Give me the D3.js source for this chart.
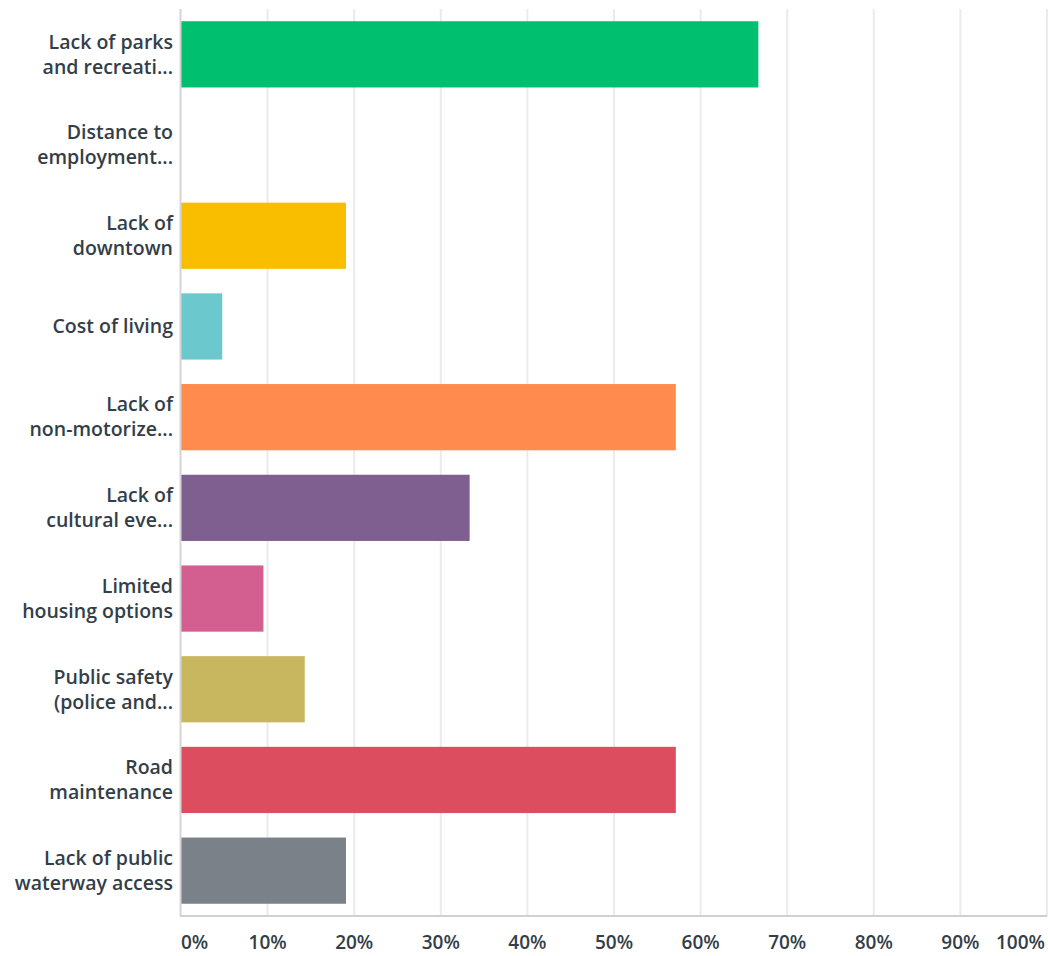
<!DOCTYPE html>
<html>
<head>
<meta charset="utf-8">
<script src="https://cdn.jsdelivr.net/npm/d3@7"></script>
<style>
  html, body { margin: 0; padding: 0; background: #fff; }
  svg text { font-family: "Open Sans", "Noto Sans", sans-serif; font-weight: 600; fill: #333e48; }
</style>
</head>
<body>
<svg id="chart" width="1048" height="956"></svg>
<script>
// Survey answer choices (each label split into its display lines)
const categories = [
  ["Lack of parks", "and recreati..."],
  ["Distance to", "employment..."],
  ["Lack of", "downtown"],
  ["Cost of living"],
  ["Lack of", "non-motorize..."],
  ["Lack of", "cultural eve..."],
  ["Limited", "housing options"],
  ["Public safety", "(police and..."],
  ["Road", "maintenance"],
  ["Lack of public", "waterway access"]
];
// Share of respondents choosing each option (%)
const values = [66.67, 0, 19.05, 4.76, 57.14, 33.33, 9.52, 14.29, 57.14, 19.05];
const colors = ["#00bf6f", "#507cb6", "#f9be00", "#6bc8cd", "#ff8b4f",
                "#7f5f90", "#d25f90", "#c9b75f", "#dc4e5f", "#7a8188"];
const tickValues = [0, 10, 20, 30, 40, 50, 60, 70, 80, 90, 100];

const svg = d3.select("#chart");
const margin = { top: 9, right: 1, bottom: 40, left: 181 };
const width = 1048 - margin.left - margin.right;
const height = 956 - margin.top - margin.bottom;

const g = svg.append("g").attr("transform", `translate(${margin.left},${margin.top})`);

const x = d3.scaleLinear().domain([0, 100]).range([0, width]);
const y = d3.scaleBand().domain(d3.range(categories.length)).range([0, height]).paddingInner(0.27).paddingOuter(0.135);

// vertical gridlines
g.append("g").selectAll("line").data(tickValues.slice(1)).join("line")
  .attr("x1", d => x(d)).attr("x2", d => x(d))
  .attr("y1", 0).attr("y2", height)
  .attr("stroke", "#ebebeb").attr("stroke-width", 2);

// bars
g.append("g").selectAll("rect").data(values).join("rect")
  .attr("x", 0)
  .attr("y", (d, i) => y(i))
  .attr("width", d => x(d))
  .attr("height", y.bandwidth())
  .attr("fill", (d, i) => colors[i]);

// left axis line
g.append("line").attr("x1", -0.5).attr("x2", -0.5).attr("y1", 0).attr("y2", height)
  .attr("stroke", "#d5d5d5").attr("stroke-width", 2);
// bottom axis line
g.append("line").attr("x1", -1).attr("x2", width).attr("y1", height).attr("y2", height)
  .attr("stroke", "#d0d0d0").attr("stroke-width", 2);

// category labels
const lineH = 25;
const labels = g.append("g").selectAll("text").data(categories).join("text")
  .attr("text-anchor", "end")
  .attr("font-size", 19.5)
  .attr("transform", (d, i) => `translate(-8,${y(i) + y.bandwidth() / 2})`);
labels.each(function(lines) {
  const t = d3.select(this);
  const start = -(lines.length - 1) * lineH / 2;
  lines.forEach((ln, k) => {
    t.append("tspan").attr("x", 0).attr("y", start + k * lineH).attr("dy", "0.35em").text(ln);
  });
});

// x tick labels
g.append("g").selectAll("text").data(tickValues).join("text")
  .attr("font-size", 19)
  .attr("x", d => d === 0 ? x(d) : d === 100 ? x(d) - 2 : x(d))
  .attr("y", height + 26)
  .attr("dy", "0.35em")
  .attr("text-anchor", d => d === 0 ? "start" : d === 100 ? "end" : "middle")
  .text(d => d + "%");
</script>
</body>
</html>
